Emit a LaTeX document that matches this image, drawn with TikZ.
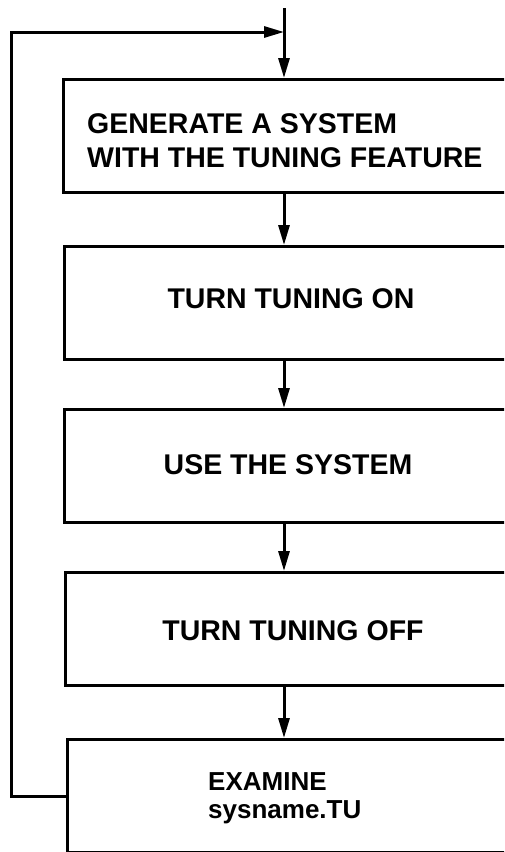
\documentclass[tikz,border=0pt]{standalone}
\usepackage{fontspec}
\setmainfont{Liberation Sans}
\usetikzlibrary{arrows.meta,positioning}

\tikzset{
  stepbox/.style={
    draw,
    line width=3pt,
    minimum width=500pt,
    minimum height=113pt,
    inner sep=0pt,
    anchor=north west
  },
  stepText/.style={
    font=\bfseries\fontsize{28.5}{34}\selectfont,
    inner sep=0pt,
    align=left
  },
  flowArrow/.style={-{Triangle[length=20pt,width=11pt]}, line width=3pt},
  loopLine/.style={line width=3pt}
}

\begin{document}
\begin{tikzpicture}[x=1pt,y=-1pt]
  \clip (0,0) rectangle (504,852);

  \coordinate (entry) at (284,8);
  \coordinate (join) at (284,32);
  \coordinate (loopcorner) at (11,32);

  \node[stepbox] (gen)  at (62,78)  {};
  \node[stepbox] (tune) at (63,245) {};
  \node[stepbox] (use)  at (63,408) {};
  \node[stepbox] (off)  at (64,571) {};
  \node[stepbox] (exam) at (66,738) {};

  \node[stepText, anchor=north west] (genTxt) at (87,113)
    {GENERATE A SYSTEM\\WITH THE TUNING FEATURE};
  \node[stepText] (tuneTxt) at (291,299) {TURN TUNING ON};
  \node[stepText] (useTxt)  at (288,465) {USE THE SYSTEM};
  \node[stepText] (offTxt)  at (293,631) {TURN TUNING OFF};
  \node[stepText, anchor=north west, font=\bfseries\fontsize{26}{28}\selectfont]
    (examTxt) at (208,772) {EXAMINE\\sysname.TU};

  \draw[flowArrow] (entry) -- (gen.north -| entry);
  \draw[flowArrow] (gen.south -| entry) -- (tune.north -| entry);
  \draw[flowArrow] (tune.south -| entry) -- (use.north -| entry);
  \draw[flowArrow] (use.south -| entry) -- (off.north -| entry);
  \draw[flowArrow] (off.south -| entry) -- (exam.north -| entry);

  % feedback loop
  \draw[flowArrow] (exam.west) -| (loopcorner) -- (join);
\end{tikzpicture}
\end{document}
